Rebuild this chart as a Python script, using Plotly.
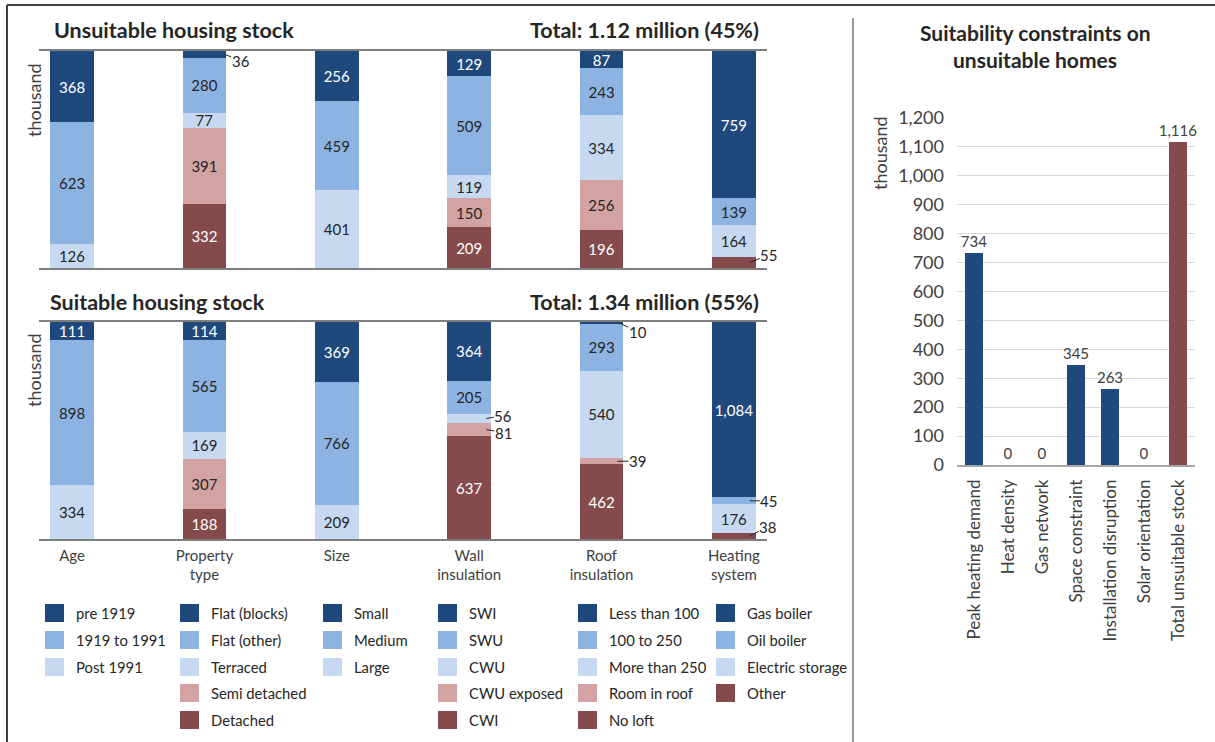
import plotly.graph_objects as go

W, H = 1215, 742

# ---- categories -------------------------------------------------------------
GROUP_TICKS = ["Age", "Property<br>type", "Size", "Wall<br>insulation",
               "Roof<br>insulation", "Heating<br>system"]

AGE_BANDS = ["pre 1919", "1919 to 1991", "Post 1991"]
PROPERTY_TYPES = ["Flat (blocks)", "Flat (other)", "Terraced", "Semi detached", "Detached"]
SIZES = ["Small", "Medium", "Large"]
WALL_TYPES = ["SWI", "SWU", "CWU", "CWU exposed", "CWI"]
ROOF_TYPES = ["Less than 100", "100 to 250", "More than 250", "Room in roof", "No loft"]
HEATING_TYPES = ["Gas boiler", "Oil boiler", "Electric storage", "Other"]

# ---- unsuitable stock (thousand homes) ------------------------------------
unsuitable_age = [368, 623, 126]
unsuitable_property = [36, 280, 77, 391, 332]
unsuitable_size = [256, 459, 401]
unsuitable_wall = [129, 509, 119, 150, 209]
unsuitable_roof = [87, 243, 334, 256, 196]
unsuitable_heating = [759, 139, 164, 55]

# ---- suitable stock (thousand homes) --------------------------------------
suitable_age = [111, 898, 334]
suitable_property = [114, 565, 169, 307, 188]
suitable_size = [369, 766, 209]
suitable_wall = [364, 205, 56, 81, 637]
suitable_roof = [10, 293, 540, 39, 462]
suitable_heating = [1084, 45, 176, 38]

# ---- constraints on unsuitable homes (thousand) ---------------------------
CONSTRAINTS = ["Peak heating demand", "Heat density", "Gas network", "Space constraint",
               "Installation disruption", "Solar orientation", "Total unsuitable stock"]
constraint_values = [734, 0, 0, 345, 263, 0, 1116]

SERIES = [AGE_BANDS, PROPERTY_TYPES, SIZES, WALL_TYPES, ROOF_TYPES, HEATING_TYPES]
UNSUITABLE = [unsuitable_age, unsuitable_property, unsuitable_size,
              unsuitable_wall, unsuitable_roof, unsuitable_heating]
SUITABLE = [suitable_age, suitable_property, suitable_size,
            suitable_wall, suitable_roof, suitable_heating]

# ---- style ------------------------------------------------------------------
NAVY, MID, LIGHT, PINK, MAROON = "#1F497D", "#8DB3E2", "#C6D9F1", "#D3A2A2", "#854A4C"
DARK_TEXT = "#262626"
AXIS_GREY = "#7F7F7F"
FONT = "Lato, Carlito, Calibri, sans-serif"


def palette(n):
    if n == 3:
        return [NAVY, MID, LIGHT]
    if n == 4:
        return [NAVY, MID, LIGHT, MAROON]
    return [NAVY, MID, LIGHT, PINK, MAROON]


def text_colour(c):
    return "white" if c in (NAVY, MAROON) else DARK_TEXT


def px_x(p):
    return p / W


def px_y(p):
    return 1 - p / H


# labels for thin segments, drawn beside the bar with a short leader:
# (panel, group, series) -> (head offset from bar centre, ax, ay)
OUTSIDE = {
    ("top", 1, 0): (0.16, 15, 6),
    ("top", 5, 3): (0.12, 19, -8),
    ("bottom", 3, 2): (0.13, 17, -3),
    ("bottom", 3, 3): (0.13, 17, 3),
    ("bottom", 4, 0): (0.13, 19, 9),
    ("bottom", 4, 3): (0.12, 20, 0),
    ("bottom", 5, 1): (0.12, 19, 0),
    ("bottom", 5, 3): (0.12, 18, -9),
}

fig = go.Figure()
annotations = []
shapes = []


def add_panel(values, panel, xa, ya):
    for gi, (names, vals) in enumerate(zip(SERIES, values)):
        cols = palette(len(names))
        # last series sits at the bottom of the stack
        for si in reversed(range(len(names))):
            key = (panel, gi, si)
            fig.add_trace(go.Bar(
                x=[gi], y=[vals[si]], xaxis=xa, yaxis=ya, name=names[si],
                width=0.33, marker=dict(color=cols[si], line=dict(width=0)),
                texttemplate="" if key in OUTSIDE else "%{y:,}",
                textposition="inside", insidetextanchor="middle", textangle=0,
                constraintext="none",
                insidetextfont=dict(family=FONT, size=15, color=text_colour(cols[si])),
                showlegend=False, hoverinfo="name+y",
            ))
            if key in OUTSIDE:
                dx, ax, ay = OUTSIDE[key]
                base = sum(vals[si + 1:])
                annotations.append(dict(
                    x=gi + dx, y=base + vals[si] / 2, xref=xa, yref=ya,
                    text=f"{vals[si]:,}", showarrow=True, arrowhead=0,
                    arrowwidth=1, arrowcolor=DARK_TEXT, standoff=0,
                    ax=ax, ay=ay, borderpad=0,
                    font=dict(family=FONT, size=15, color=DARK_TEXT),
                ))


add_panel(UNSUITABLE, "top", "x", "y")
add_panel(SUITABLE, "bottom", "x2", "y2")

fig.add_trace(go.Bar(
    x=CONSTRAINTS, y=constraint_values, xaxis="x3", yaxis="y3",
    width=0.53, marker=dict(color=[NAVY] * 6 + [MAROON], line=dict(width=0)),
    texttemplate="%{y:,}", textposition="outside", cliponaxis=False,
    constraintext="none",
    textfont=dict(family=FONT, size=15, color="#404040"),
    showlegend=False,
))

left_dom = [px_x(39), px_x(767)]
common_x = dict(domain=left_dom, range=[-0.25, 5.25], showgrid=False, zeroline=False,
                showline=True, mirror=True, linecolor=AXIS_GREY, linewidth=1.5,
                ticks="", tickvals=list(range(6)), fixedrange=True, automargin=False)
common_y = dict(showgrid=False, zeroline=False, showline=False, showticklabels=False,
                ticks="", fixedrange=True, automargin=False)

fig.update_layout(
    width=W, height=H, autosize=False,
    margin=dict(l=0, r=0, t=0, b=0, pad=0, autoexpand=False),
    paper_bgcolor="white", plot_bgcolor="white",
    barmode="stack", showlegend=False,
    font=dict(family=FONT, size=14, color=DARK_TEXT),
    xaxis=dict(**common_x, anchor="y", showticklabels=False),
    yaxis=dict(**common_y, domain=[px_y(268), px_y(51)], range=[0, 1117], anchor="x"),
    xaxis2=dict(**common_x, anchor="y2", ticktext=GROUP_TICKS, ticklabelstandoff=2,
                tickfont=dict(family=FONT, size=15, color="#404040")),
    yaxis2=dict(**common_y, domain=[px_y(539), px_y(322)], range=[0, 1343.5], anchor="x2"),
    xaxis3=dict(domain=[px_x(957), px_x(1195)], anchor="y3", showgrid=False,
                zeroline=False, showline=True, linecolor="#A6A6A6", linewidth=1.5,
                ticks="", tickangle=-90, ticklabelstandoff=6, fixedrange=True,
                automargin=False,
                tickfont=dict(family=FONT, size=17, color="#404040")),
    yaxis3=dict(domain=[px_y(465), px_y(118)], anchor="x3", range=[0, 1200], dtick=100,
                tickformat=",", showgrid=True, gridcolor="#D9D9D9", gridwidth=1,
                zeroline=False, showline=False, ticks="", ticklabelstandoff=12,
                fixedrange=True, automargin=False,
                tickfont=dict(family=FONT, size=18, color="#404040")),
)

# ---- titles -----------------------------------------------------------------
def text(x, y, s, size=14, bold=False, anchor="center", angle=0, color=DARK_TEXT):
    annotations.append(dict(
        x=px_x(x), y=px_y(y), xref="paper", yref="paper", text=f"<b>{s}</b>" if bold else s,
        showarrow=False, xanchor=anchor, yanchor="middle", textangle=angle,
        font=dict(family=FONT, size=size, color=color),
    ))


text(52, 30, "Unsuitable housing stock", 21.5, True, "left")
text(761, 30, "Total: 1.12 million (45%)", 21.5, True, "right")
text(48, 302, "Suitable housing stock", 21.5, True, "left")
text(761, 302, "Total: 1.34 million (55%)", 21.5, True, "right")
text(1035, 33, "Suitability constraints on", 21, True)
text(1035, 60, "unsuitable homes", 21, True)
text(34, 100, "thousand", 18, angle=-90, color="#404040")
text(34, 370, "thousand", 18, angle=-90, color="#404040")
text(880, 153, "thousand", 18, angle=-90, color="#404040")

# ---- legend: one column per category ----------------------------------------
LEG_X = [45, 180, 323, 438, 578, 716]
LEG_ROWS = [613, 640, 667, 693, 720]
for gi, names in enumerate(SERIES):
    cols = palette(len(names))
    for si, name in enumerate(names):
        cy = LEG_ROWS[si]
        x0 = LEG_X[gi]
        shapes.append(dict(type="rect", xref="paper", yref="paper",
                           x0=px_x(x0), x1=px_x(x0 + 19), y0=px_y(cy + 9), y1=px_y(cy - 9),
                           fillcolor=cols[si], line=dict(width=0)))
        text(x0 + 29, cy, name, 14.8, anchor="left")

# ---- frame lines --------------------------------------------------------------
frame = dict(type="line", xref="paper", yref="paper")
shapes.append(dict(frame, x0=px_x(7), x1=1, y0=px_y(5), y1=px_y(5),
                   line=dict(color="#404040", width=2)))
shapes.append(dict(frame, x0=px_x(7), x1=px_x(7), y0=px_y(5), y1=0,
                   line=dict(color="#404040", width=2)))
shapes.append(dict(frame, x0=px_x(853), x1=px_x(853), y0=px_y(18), y1=0,
                   line=dict(color="#999999", width=2)))

fig.update_layout(annotations=annotations, shapes=shapes)
fig.write_html("out.html")
